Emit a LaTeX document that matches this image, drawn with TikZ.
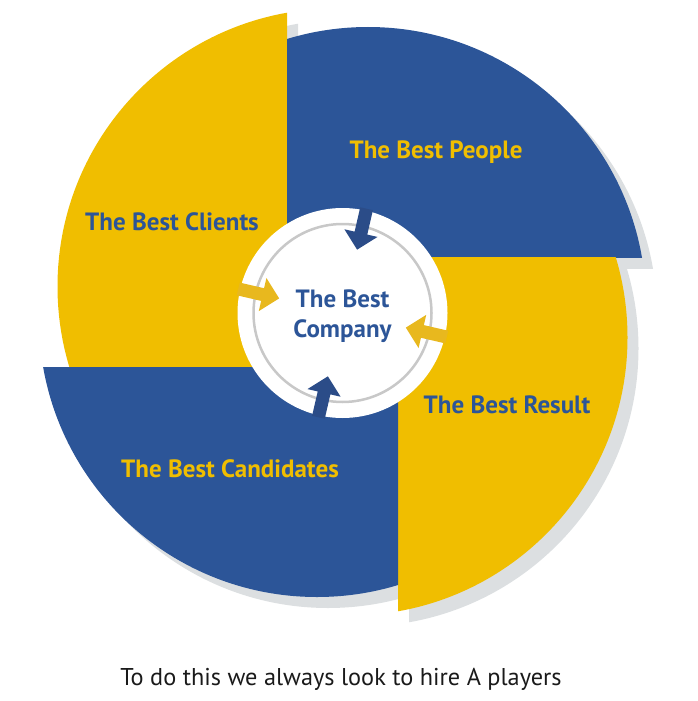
\documentclass[tikz,border=0pt]{standalone}
\usepackage{fontspec}
\setmainfont{PT Sans}
\usetikzlibrary{positioning}
\tikzset{every node/.append style={align=center}}
\definecolor{segblue}{RGB}{44,85,152}
\definecolor{segyellow}{RGB}{240,190,0}
\definecolor{shadowgray}{RGB}{220,223,225}
\definecolor{arrowblue}{RGB}{43,76,136}
\definecolor{arrowyellow}{RGB}{232,184,30}
\definecolor{ringgray}{RGB}{200,200,200}
\definecolor{captioncolor}{RGB}{26,26,26}

\begin{document}
\begin{tikzpicture}[
    x=1pt, y=-1pt,
    segtext/.style={font=\bfseries\fontsize{25}{30}\selectfont},
    captext/.style={font=\fontsize{24.3}{28}\selectfont, text=captioncolor},
    hubring/.style={draw=ringgray, line width=2.5pt}
]
    \useasboundingbox (0,0) rectangle (697,701);
    \coordinate (hub) at (342.5,313);

    % Shadows
    \begin{scope}[shift={(11,11)}]
    \foreach \kx/\ky/\ex/\ey/\qx/\qy in {287/367/0/0/335.5/286.5, 287/257/697/0/368/305,
        398/257/697/701/349.5/337.5, 398/367/0/701/317/319}{
        \begin{scope}
            \clip (\kx,\ky) rectangle (\ex,\ey);
            \fill[shadowgray] (\qx,\qy) circle (278pt);
        \end{scope}
    }
    \end{scope}

    % Quarters
    \foreach \kx/\ky/\ex/\ey/\qx/\qy/\col in {287/367/0/0/335.5/286.5/segyellow, 287/257/697/0/368/305/segblue,
        398/257/697/701/349.5/337.5/segyellow, 398/367/0/701/317/319/segblue}{
        \begin{scope}
            \clip (\kx,\ky) rectangle (\ex,\ey);
            \fill[\col] (\qx,\qy) circle (278pt);
        \end{scope}
    }

    % Hub
    \fill[white] (hub) circle (105pt);
    \draw[hubring] (hub) circle (89pt);
    \foreach \ang/\col in {77/arrowblue, 167/arrowyellow, 257/arrowblue, 347/arrowyellow}
        \fill[\col, shift={(hub)}, rotate=\ang]
            (107,-6.5) -- (82,-6.5) -- (82,-17) -- (65,0) -- (82,17) -- (82,6.5) -- (107,6.5) -- cycle;

    % Labels
    \node[segtext, text=segblue] (company) at (342.5,316) {The Best\\Company};
    \node[segtext, text=segblue] (clients) at (172,222) {The Best Clients};
    \node[segtext, text=segyellow] (people) at (436,152) {The Best People};
    \node[segtext, text=segblue] (result) at (507,405) {The Best Result};
    \node[segtext, text=segyellow] (candidates) at (230,469) {The Best Candidates};
    \node[captext] (caption) at (341,679) {To do this we always look to hire A players};
\end{tikzpicture}
\end{document}
